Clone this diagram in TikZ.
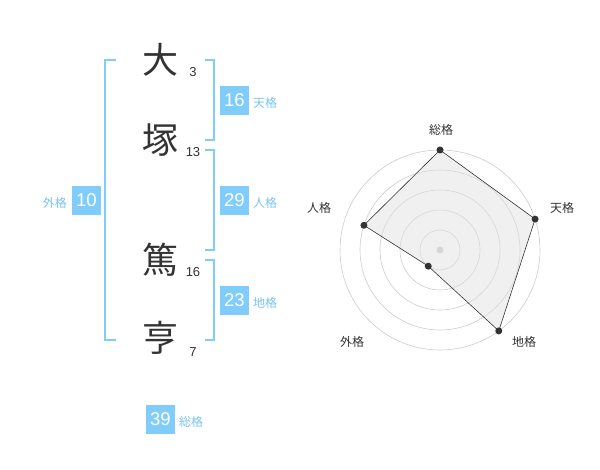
\documentclass[tikz,border=0pt]{standalone}
\usepackage{fontspec}
\setmainfont{Liberation Sans}
\newfontfamily\cjk{Noto Sans CJK JP}
\definecolor{bbox}{RGB}{128,204,250}
\definecolor{blab}{RGB}{120,196,240}
\definecolor{dk}{RGB}{51,51,51}
\definecolor{ring}{RGB}{204,204,204}
\definecolor{pfill}{RGB}{225,225,225}
\tikzset{
  br/.style={draw=bbox, line width=2pt},
  kanji/.style={font=\cjk\fontsize{36}{36}\selectfont, text=dk, inner sep=0},
  strokes/.style={font=\fontsize{13}{13}\selectfont, text=dk, inner sep=0},
  numbox/.style={fill=bbox, text=white, minimum width=29pt, minimum height=29pt, inner sep=0, font=\fontsize{18.5}{18.5}\selectfont},
  lab/.style={font=\cjk\fontsize{12}{12}\selectfont, text=blab, inner sep=0},
  axlab/.style={font=\cjk\fontsize{12}{12}\selectfont, text=dk, inner sep=0},
  rg/.style={draw=ring, line width=0.6pt},
  pt/.style={circle, fill=dk, inner sep=0, minimum size=7pt}
}
\begin{document}
\begin{tikzpicture}[x=1pt,y=-1pt]
\useasboundingbox (0,0) rectangle (600,470);
% characters
\node[kanji] (c1) at (160,60) {大};
\node[kanji] (c2) at (160,140) {塚};
\node[kanji] (c3) at (160,260) {篤};
\node[kanji] (c4) at (160,338) {亨};
\node[strokes] (s1) at (193,72) {3};
\node[strokes] (s2) at (193,152) {13};
\node[strokes] (s3) at (193,272) {16};
\node[strokes] (s4) at (193,352) {7};
% brackets
\coordinate (lt) at (105,60); \coordinate (lb) at (105,340);
\draw[br] (116,60) -- (lt) -- (lb) -- (116,340);
\coordinate (t1) at (214,60); \coordinate (t2) at (214,140);
\draw[br] (205,60) -- (t1) -- (t2) -- (205,140);
\coordinate (j1) at (214,150); \coordinate (j2) at (214,250);
\draw[br] (205,150) -- (j1) -- (j2) -- (205,250);
\coordinate (d1) at (214,260); \coordinate (d2) at (214,340);
\draw[br] (205,260) -- (d1) -- (d2) -- (205,340);
% boxes
\node[numbox] (ten) at (234.5,100.5) {16};
\node[lab, anchor=west] (tenl) at (253,103) {天格};
\node[numbox] (jin) at (234.5,200.5) {29};
\node[lab, anchor=west] (jinl) at (253,203) {人格};
\node[numbox] (chi) at (234.5,300.5) {23};
\node[lab, anchor=west] (chil) at (253,303) {地格};
\node[numbox] (gai) at (86.5,200.5) {10};
\node[lab, anchor=east] (gail) at (67,203) {外格};
\node[numbox] (sou) at (160.5,419.5) {39};
\node[lab, anchor=west] (soul) at (179,422) {総格};
% radar
\coordinate (o) at (440,250);
\foreach \r in {20,40,60,80,100} \draw[rg] (o) circle[radius=\r];
\fill[ring] (o) circle[radius=3.5];
\path (o) ++(0,-100) coordinate (pS);
\path (o) ++({100*cos(18)},{-100*sin(18)}) coordinate (pT);
\path (o) ++({100*cos(306)},{-100*sin(306)}) coordinate (pC);
\path (o) ++({20*cos(234)},{-20*sin(234)}) coordinate (pG);
\path (o) ++({80*cos(162)},{-80*sin(162)}) coordinate (pJ);
\fill[pfill, fill opacity=0.5] (pS) -- (pT) -- (pC) -- (pG) -- (pJ) -- cycle;
\draw[dk, line width=0.6pt] (pS) -- (pT) -- (pC) -- (pG) -- (pJ) -- cycle;
\foreach \p in {pS,pT,pC,pG,pJ} \node[pt] at (\p) {};
\node[axlab] (aS) at (441,130) {総格};
\node[axlab] (aT) at (562,208) {天格};
\node[axlab] (aJ) at (319,208) {人格};
\node[axlab] (aG) at (352,342) {外格};
\node[axlab] (aC) at (524,342) {地格};
\end{tikzpicture}
\end{document}
